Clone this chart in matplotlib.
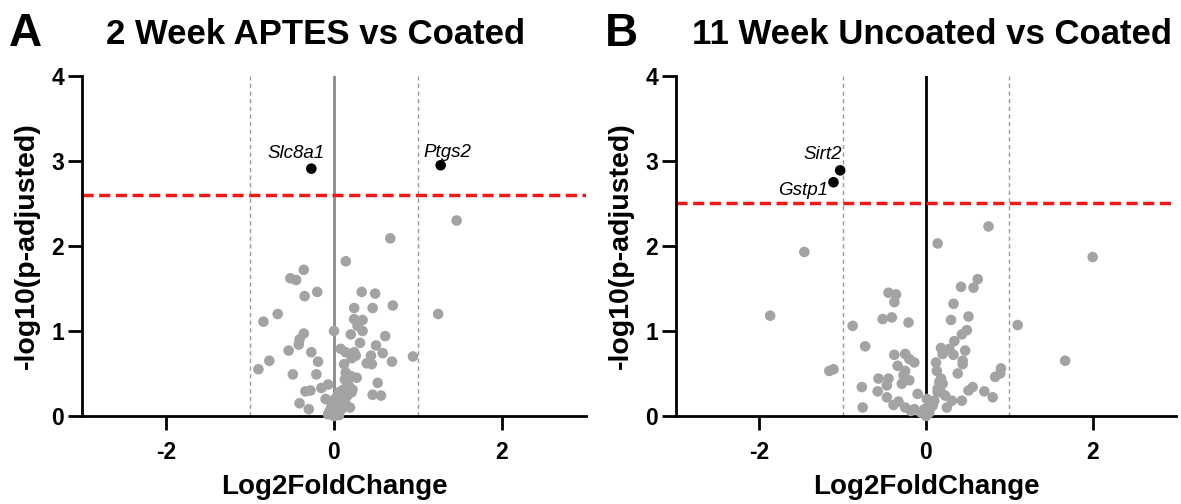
import matplotlib
matplotlib.use("Agg")
import matplotlib.pyplot as plt
import numpy as np

plt.rcParams['font.family'] = ['Liberation Sans', 'DejaVu Sans']
plt.rcParams['axes.unicode_minus'] = False

# ---- Panel A: 2 Week APTES vs Coated ----
a_lfc = [1.46, 0.67, 0.14, -0.36, -0.52, -0.45, -0.35, -0.20, 0.33, 0.49,
         0.70, 0.46, 0.24, 1.24, -0.67, -0.84, 0.24, 0.34, 0.28, 0.34,
         0.00, -0.36, -0.41, -0.42, 0.61, 0.20, 0.31, 0.50, -0.54, -0.27,
         0.08, 0.14, 0.24, 0.58, 0.44, 0.94, -0.19, -0.77, -0.90, 0.69,
         0.39, 0.45, 0.12, 0.21, 0.26, -0.49, -0.21, 0.14, 0.27, 0.20,
         0.52, -0.15, -0.07, -0.34, -0.28, 0.18, 0.21, 0.46, 0.56, -0.10,
         -0.41, -0.30, 0.19, 0.01, 0.06, 0.11, -0.03, 0.03, 0.00, -0.05,
         0.09, 0.13, 0.07, 0.16, 0.13, 0.16, 0.22, 0.04, -0.07, 0.06]
a_padj = [2.30, 2.09, 1.82, 1.72, 1.62, 1.60, 1.41, 1.46, 1.46, 1.44,
          1.30, 1.27, 1.27, 1.20, 1.20, 1.11, 1.14, 1.13, 1.06, 1.00,
          1.00, 0.97, 0.90, 0.84, 0.94, 0.96, 0.86, 0.83, 0.77, 0.75,
          0.79, 0.75, 0.75, 0.74, 0.71, 0.70, 0.64, 0.65, 0.55, 0.64,
          0.62, 0.61, 0.61, 0.68, 0.71, 0.49, 0.49, 0.51, 0.45, 0.47,
          0.39, 0.33, 0.37, 0.29, 0.30, 0.35, 0.28, 0.25, 0.24, 0.20,
          0.15, 0.08, 0.10, 0.20, 0.28, 0.31, 0.12, 0.04, 0.00, 0.06,
          0.08, 0.16, 0.22, 0.24, 0.43, 0.41, 0.31, 0.12, 0.02, 0.01]
a_genes = ['Slc8a1', 'Ptgs2']
a_sig_lfc = [-0.27, 1.27]
a_sig_padj = [2.91, 2.95]
a_cutoff = 2.6

# ---- Panel B: 11 Week Uncoated vs Coated ----
b_lfc = [0.75, 0.14, -1.46, 2.00, 0.62, 0.57, 0.42, -0.45, -0.36, -0.38,
         0.33, 0.51, -1.87, -0.52, -0.41, -0.21, 0.30, 1.10, -0.88, 0.49,
         0.43, 0.34, -0.73, 0.18, 0.28, 0.47, -0.38, -0.25, 0.20, 0.33,
         -0.20, -0.14, 1.67, 0.44, 0.12, -0.34, 0.44, -1.16, -1.11, 0.90,
         -0.25, 0.13, 0.38, 0.89, -0.27, 0.83, -0.45, -0.57, -0.20, 0.18,
         -0.29, -0.47, -0.77, 0.20, 0.56, 0.51, -0.58, 0.14, 0.70, 0.80,
         -0.47, 0.18, 0.23, 0.43, 0.31, -0.33, -0.39, -0.10, 0.01, -0.76,
         -0.25, 0.25, -0.14, -0.06, 0.04, 0.00, -0.02, 0.08, 0.10, 0.14,
         0.16, 0.05, -0.18]
b_padj = [2.23, 2.03, 1.93, 1.87, 1.61, 1.51, 1.52, 1.45, 1.43, 1.34,
          1.32, 1.17, 1.18, 1.14, 1.16, 1.10, 1.13, 1.07, 1.06, 1.01,
          0.96, 0.88, 0.82, 0.80, 0.79, 0.77, 0.72, 0.73, 0.73, 0.72,
          0.67, 0.63, 0.65, 0.65, 0.63, 0.59, 0.61, 0.53, 0.55, 0.56,
          0.53, 0.53, 0.50, 0.50, 0.48, 0.46, 0.44, 0.44, 0.42, 0.44,
          0.38, 0.36, 0.34, 0.38, 0.34, 0.30, 0.29, 0.32, 0.29, 0.22,
          0.22, 0.28, 0.24, 0.18, 0.18, 0.17, 0.13, 0.26, 0.20, 0.10,
          0.10, 0.10, 0.08, 0.04, 0.04, 0.00, 0.08, 0.12, 0.18, 0.28,
          0.40, 0.16, 0.06]
b_genes = ['Sirt2', 'Gstp1']
b_sig_lfc = [-1.03, -1.11]
b_sig_padj = [2.89, 2.75]
b_cutoff = 2.5

titles = ['2 Week APTES vs Coated', '11 Week Uncoated vs Coated']
panel_tags = ['A', 'B']
x_ticks = [-2, 0, 2]
y_ticks = [0, 1, 2, 3, 4]

GRAY = '#a3a3a3'

fig = plt.figure(figsize=(11.81, 5.04), dpi=100)
W, H = 1181, 504
axA = fig.add_axes([82 / W, (H - 416) / H, 504 / W, 340 / H])
axB = fig.add_axes([676 / W, (H - 416) / H, 500 / W, 340 / H])


def draw_panel(ax, lfc, padj, sig_lfc, sig_padj, cutoff, zero_color):
    ax.axvline(0, color=zero_color, lw=2.0, zorder=1)
    for xv in (-1, 1):
        ax.axvline(xv, color='#9a9a9a', lw=1.0, ls=(0, (3, 2.5)), zorder=1)
    ax.axhline(cutoff, color='#f01818', lw=2.5, ls=(0, (3.2, 1.6)), zorder=2)
    ax.scatter(lfc, padj, s=58, color=GRAY, edgecolors='none', zorder=3,
               clip_on=False)
    ax.scatter(sig_lfc, sig_padj, s=58, color='black', edgecolors='none',
               zorder=4, clip_on=False)
    ax.set_xlim(-3, 3)
    ax.set_ylim(0, 4)
    ax.set_xticks(x_ticks)
    ax.set_yticks(y_ticks)
    for s in ('top', 'right'):
        ax.spines[s].set_visible(False)
    for s in ('left', 'bottom'):
        ax.spines[s].set_linewidth(2.0)
    ax.tick_params(axis='both', width=2.0, length=10, labelsize=16.5)
    ax.tick_params(axis='x', pad=8)
    ax.tick_params(axis='y', pad=3)
    for lab in ax.get_xticklabels() + ax.get_yticklabels():
        lab.set_fontweight('bold')
    ax.set_xlabel('Log2FoldChange', fontsize=20, fontweight='bold', labelpad=7)
    ax.set_ylabel('-log10(p-adjusted)', fontsize=20.5, fontweight='bold',
                  labelpad=8)


draw_panel(axA, a_lfc, a_padj, a_sig_lfc, a_sig_padj, a_cutoff, '#8a8a8a')
draw_panel(axB, b_lfc, b_padj, b_sig_lfc, b_sig_padj, b_cutoff, 'black')

# gene labels
lab_kw = dict(textcoords='offset points', fontsize=13.5, style='italic')
axA.annotate(a_genes[0], (a_sig_lfc[0], a_sig_padj[0]), xytext=(-11, 5),
             ha='center', va='bottom', **lab_kw)
axA.annotate(a_genes[1], (a_sig_lfc[1], a_sig_padj[1]), xytext=(5, 3),
             ha='center', va='bottom', **lab_kw)
axB.annotate(b_genes[0], (b_sig_lfc[0], b_sig_padj[0]), xytext=(1, 5),
             ha='right', va='bottom', **lab_kw)
axB.annotate(b_genes[1], (b_sig_lfc[1], b_sig_padj[1]), xytext=(-4, -6),
             ha='right', va='center', **lab_kw)

# panel titles and tags
fig.text(316 / W, 1 - 35 / H, titles[0], fontsize=25, fontweight='bold',
         ha='center', va='center')
fig.text(932 / W, 1 - 35 / H, titles[1], fontsize=25, fontweight='bold',
         ha='center', va='center')
fig.text(9 / W, 1 - 34 / H, panel_tags[0], fontsize=33, fontweight='bold',
         va='center', ha='left')
fig.text(605 / W, 1 - 34 / H, panel_tags[1], fontsize=33, fontweight='bold',
         va='center', ha='left')

fig.savefig('out.png', dpi=100)
